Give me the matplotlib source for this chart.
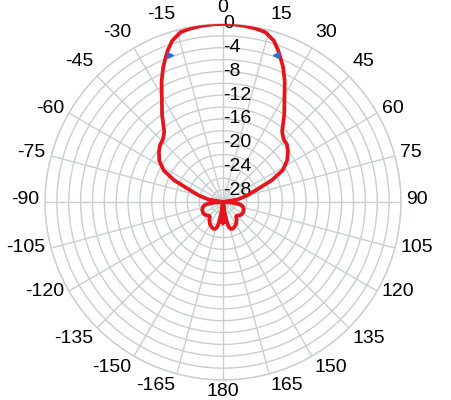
import numpy as np
import matplotlib
matplotlib.use('Agg')
from matplotlib import pyplot as plt

plt.rcParams['font.family'] = ['Liberation Sans', 'DejaVu Sans']

# pattern, angle in degrees (clockwise from top), gain in dB
theta = [-180, -177, -175, -173, -171, -169, -167, -164, -160, -155, -149, -143, -138,
         -134, -128, -122, -116, -110, -104, -100, -97, -94, -90, -86, -80, -75, -70,
         -66, -62, -57, -52, -48, -44, -40, -35, -31, -27, -24, -22, -20, -17.5, -14,
         -10.5, -7, -3,
         0, 3, 7, 10.5, 14, 17.5, 20, 22, 24, 27, 31, 35, 40, 44, 48, 52, 57, 62, 66,
         70, 75, 80, 86, 90, 94, 97, 100, 104, 110, 116, 122, 128, 134, 138, 143, 149,
         155, 160, 164, 167, 169, 171, 173, 175, 177, 180]
gain = [-26.5, -26.8, -28.0, -30, -28.0, -26.5, -25.7, -25.3, -25.2, -25.4, -25.7, -26.2, -26.7,
        -26.7, -26.4, -26.2, -26.2, -26.3, -26.5, -26.8, -27.3, -28.5, -30, -30, -27.5, -25.8, -24.0,
        -21.0, -18.7, -17.2, -16.3, -15.7, -15.4, -14.6, -12.1, -10.0, -7.2, -5.2, -4.0, -2.8, -1.5, -0.5,
        -0.25, -0.1, 0,
        0, 0, -0.1, -0.25, -0.5, -1.5, -2.8, -4.0, -5.1, -7.1, -9.9, -12.0, -14.5, -15.3, -15.5, -16.1, -17.1, -18.6, -21.0,
        -24.0, -25.8, -27.5, -30, -30, -28.5, -27.3, -26.8, -26.5, -26.3, -26.2, -26.2, -26.4, -26.7, -26.7, -26.2, -25.7,
        -25.4, -25.2, -25.3, -25.7, -26.5, -28.0, -30, -28.0, -26.8, -26.5]

# -3 dB beamwidth markers
mark_theta = [-19.7, 19.7]
mark_gain = [-3.6, -3.6]

ang_ticks = [0, 15, 30, 45, 60, 75, 90, 105, 120, 135, 150, 165, 180,
             -165, -150, -135, -120, -105, -90, -75, -60, -45, -30, -15]
r_ticks = [0, -4, -8, -12, -16, -20, -24, -28]

grid_col = '#c7cfd1'

fig = plt.figure(figsize=(4.52, 4.0), dpi=100)
ax = fig.add_axes([0.0951, 0.05, 0.7965, 0.89], projection='polar')
ax.set_theta_zero_location('N')
ax.set_theta_direction(-1)
ax.set_rlim(-30, 0)
ax.set_rticks(np.arange(-28, 1, 2))
ax.set_yticklabels([])
ax.set_thetagrids(np.arange(0, 360, 15), labels=[''] * 24)
ax.grid(True, color=grid_col, linewidth=1.0)
ax.spines['polar'].set_color(grid_col)
ax.spines['polar'].set_linewidth(1.0)

ax.plot(np.deg2rad(theta), gain, color='#e4161c', linewidth=2.7, zorder=5)
ax.plot(np.deg2rad(mark_theta[0]), mark_gain[0], marker='>', color='#2c6fd8',
        markersize=5, linestyle='none', zorder=6)
ax.plot(np.deg2rad(mark_theta[1]), mark_gain[1], marker='<', color='#2c6fd8',
        markersize=5, linestyle='none', zorder=6)

for a in ang_ticks:
    s, c = np.sin(np.deg2rad(a)), np.cos(np.deg2rad(a))
    ha = 'left' if s > 0.1 else ('right' if s < -0.1 else 'center')
    if abs(c) < 0.6:
        va = 'center'
    elif c > 0:
        va = 'bottom'
    else:
        va = 'top'
    pad = 4
    ax.annotate(str(a), xy=(np.deg2rad(a), 0), xytext=(pad * s, pad * c + 1.5),
                textcoords='offset points', ha=ha, va=va, fontsize=14,
                annotation_clip=False)

for r in r_ticks:
    ax.text(0, r, str(r), ha='left', va='center', fontsize=14, zorder=4)

plt.savefig('out.png', dpi=100)
